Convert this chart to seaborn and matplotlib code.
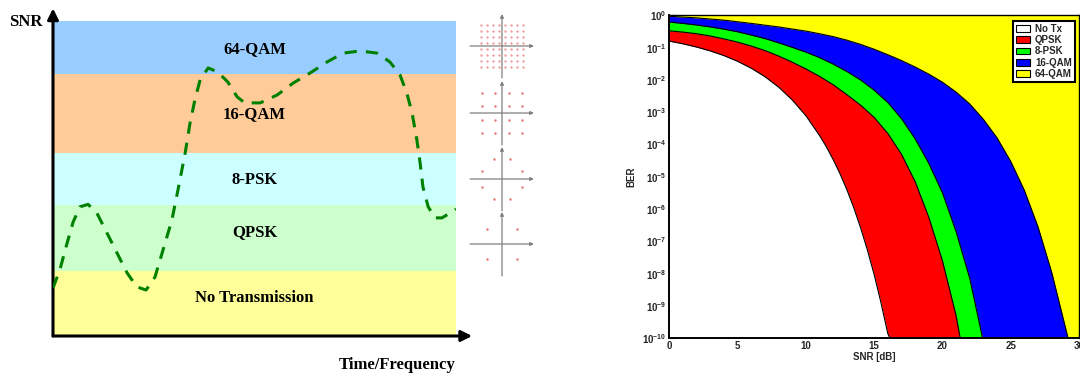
import numpy as np
import pandas as pd

import matplotlib
matplotlib.use('Agg')
import matplotlib.pyplot as plt
from matplotlib.patches import Patch
from matplotlib.ticker import LogLocator, NullFormatter
import seaborn as sns

W, H = 1080, 373

# ---- left panel: adaptive modulation regions over time/frequency ----
BAND_NAMES = ["No Transmission", "QPSK", "8-PSK", "16-QAM", "64-QAM"]
BAND_EDGES = [0, 20.6, 41.6, 58.1, 83.2, 100]
BAND_COLORS = ["#FFFF99", "#CCFFCC", "#CCFFFF", "#FFCC99", "#99CCFF"]
LABEL_Y = [12.1, 33.0, 49.5, 70.5, 91.1]

TRACE_T = [0, 1.7, 3.5, 5.0, 6.7, 8.7, 10.9, 13.4, 15.9, 18.4,
           20.8, 23.1, 25.3, 27.3, 29.5, 31.0, 32.8, 34.0, 35.2, 36.5,
           38.5, 40.9, 43.4, 45.7, 47.6, 51.4, 55.6, 59.6, 63.8, 68.0,
           72.0, 76.2, 80.4, 83.6, 86.1, 87.8, 89.1, 90.3, 91.1, 91.8,
           93.1, 94.8, 96.5, 98.5, 100]
TRACE_SNR = [15.2, 21.0, 29.5, 36.2, 41.0, 41.8, 39.0, 32.7, 26.3, 20.0,
             15.6, 14.6, 18.7, 27.3, 36.8, 46.3, 58.1, 67.6, 74.9, 81.3,
             85.1, 83.8, 80.6, 75.9, 74.0, 74.0, 76.5, 80.3, 83.5, 87.0,
             89.8, 90.5, 89.8, 87.0, 82.9, 77.1, 70.8, 62.2, 54.9, 47.3,
             41.0, 37.5, 37.5, 39.0, 40.3]

# constellation point coordinates
QAM64_LEVELS = [-7, -5, -3, -1, 1, 3, 5, 7]
QAM16_LEVELS = [-3, -1, 1, 3]
PSK8_ANGLES = [22.5, 67.5, 112.5, 157.5, 202.5, 247.5, 292.5, 337.5]
QPSK_ANGLES = [45, 135, 225, 315]

# ---- right panel: BER boundaries per modulation ----
QPSK_SNR = [0, 1, 2, 3, 4, 5, 6, 7, 8, 9, 10, 11, 11.5, 12, 12.5, 13, 13.5,
            14, 14.5, 15, 15.5, 16, 16.15]
QPSK_BER = [0.159, 0.131, 0.104, 0.079, 0.0565, 0.0377, 0.023, 0.0126, 6.0e-3,
            2.4e-3, 7.8e-4, 1.9e-4, 8.5e-5, 3.4e-5, 1.24e-5, 4.0e-6, 1.12e-6,
            2.7e-7, 5.5e-8, 9.4e-9, 1.26e-9, 1.4e-10, 1.0e-10]

PSK8_SNR = [0, 1, 2, 3, 4, 5, 6, 7, 8, 9, 10, 11, 12, 13, 14, 15, 16, 17, 18,
            19, 20, 21, 21.3]
PSK8_BER = [0.331, 0.302, 0.269, 0.229, 0.186, 0.148, 0.112, 0.0813, 0.055,
            0.0355, 0.0219, 0.0129, 7.1e-3, 3.5e-3, 1.66e-3, 6.9e-4, 2.2e-4,
            5.0e-5, 7.1e-6, 5.6e-7, 2.5e-8, 5.0e-10, 1.0e-10]

QAM16_SNR = [0, 1, 2, 3, 4, 5, 6, 7, 8, 9, 10, 11, 12, 13, 14, 15, 16, 17, 18,
             19, 20, 21, 22, 22.94]
QAM16_BER = [0.617, 0.562, 0.501, 0.437, 0.372, 0.309, 0.245, 0.191, 0.141,
             0.102, 0.0724, 0.049, 0.0309, 0.0182, 0.01, 4.8e-3, 2.0e-3, 6.3e-4,
             1.5e-4, 2.6e-5, 3.2e-6, 2.0e-7, 7.1e-9, 1.0e-10]

QAM64_SNR = [0, 1, 2, 3, 4, 5, 6, 7, 8, 9, 10, 11, 12, 13, 14, 15, 16, 17, 18,
             19, 20, 21, 22, 23, 24, 25, 26, 27, 28, 29, 29.2]
QAM64_BER = [0.933, 0.881, 0.832, 0.767, 0.708, 0.631, 0.562, 0.495, 0.437,
             0.376, 0.324, 0.269, 0.219, 0.17, 0.126, 0.0891, 0.0603, 0.0398,
             0.0251, 0.0151, 8.5e-3, 4.2e-3, 1.8e-3, 6.0e-4, 1.6e-4, 3.0e-5,
             3.8e-6, 2.8e-7, 1.1e-8, 2.2e-10, 1.0e-10]

LEGEND_NAMES = ["No Tx", "QPSK", "8-PSK", "16-QAM", "64-QAM"]
LEGEND_COLORS = ["#FFFFFF", "#FF0000", "#00FF00", "#0000FF", "#FFFF00"]


def px_axes(x0, y0, x1, y1):
    # pixel box (top-left origin) -> figure fraction rect
    return [x0 / W, 1 - y1 / H, (x1 - x0) / W, (y1 - y0) / H]


sns.set_theme(style="white")
plt.rcParams['font.family'] = ['Liberation Sans', 'DejaVu Sans']
plt.rcParams['mathtext.fontset'] = 'custom'
plt.rcParams['mathtext.rm'] = 'Liberation Sans:bold'
plt.rcParams['mathtext.default'] = 'rm'

fig = plt.figure(figsize=(W / 100, H / 100), dpi=100)
fig.patch.set_facecolor('white')

# ---------------- left panel ----------------
serif = dict(family='Liberation Serif', fontweight='bold', color='black')
ax1 = fig.add_axes(px_axes(53, 21, 456, 336))
ax1.set_xlim(0, 100)
ax1.set_ylim(0, 100)
for lo, hi, c in zip(BAND_EDGES[:-1], BAND_EDGES[1:], BAND_COLORS):
    ax1.axhspan(lo, hi, color=c, lw=0, zorder=0)
for name, y in zip(BAND_NAMES, LABEL_Y):
    ax1.text(50, y, name, ha='center', va='center', fontsize=12, zorder=3, **serif)

trace = pd.DataFrame({"t": TRACE_T, "snr": TRACE_SNR})
sns.lineplot(data=trace, x="t", y="snr", ax=ax1, color="#008000", lw=2.2,
             linestyle=(0, (4, 3)), estimator=None, sort=False, zorder=4)
ax1.set_xlabel("")
ax1.set_ylabel("")
ax1.set_xticks([])
ax1.set_yticks([])
for s in ax1.spines.values():
    s.set_visible(False)

arrow = dict(arrowstyle='-|>', color='black', lw=2.2, mutation_scale=16,
             shrinkA=0, shrinkB=0)
ax1.annotate('', xy=(0, 1.04), xytext=(0, 0), xycoords='axes fraction',
             arrowprops=arrow, annotation_clip=False)
ax1.annotate('', xy=(1.04, 0), xytext=(0, 0), xycoords='axes fraction',
             arrowprops=arrow, annotation_clip=False)
fig.text(26 / W, 1 - 22 / H, "SNR", ha='center', va='center', fontsize=12, **serif)
fig.text(397 / W, 1 - 365 / H, "Time/Frequency", ha='center', va='center',
         fontsize=12, **serif)

# constellation thumbnails
g64 = np.array(QAM64_LEVELS) / 7
g16 = np.array(QAM16_LEVELS) / 3 * 0.95
xx64, yy64 = np.meshgrid(g64, g64)
xx16, yy16 = np.meshgrid(g16, g16)
a8 = np.deg2rad(PSK8_ANGLES)
a4 = np.deg2rad(QPSK_ANGLES)
constellations = [
    (46, xx64.ravel(), yy64.ravel(), 0.55),
    (113, xx16.ravel(), yy16.ravel(), 0.8),
    (179, np.cos(a8), np.sin(a8), 0.8),
    (244, np.cos(a4), np.sin(a4), 0.8),
]
thin = dict(arrowstyle='-|>', color='#808080', lw=0.9, mutation_scale=5,
            shrinkA=0, shrinkB=0)
for cy, px, py, alpha in constellations:
    axc = fig.add_axes(px_axes(469, cy - 33, 535, cy + 33))
    axc.set_xlim(-1.55, 1.55)
    axc.set_ylim(-1.55, 1.55)
    axc.axis('off')
    axc.annotate('', xy=(1.5, 0), xytext=(-1.5, 0), arrowprops=thin)
    axc.annotate('', xy=(0, 1.5), xytext=(0, -1.5), arrowprops=thin)
    sns.scatterplot(x=px, y=py, ax=axc, color='#E05050', s=3, linewidth=0,
                    alpha=alpha, legend=False)

# ---------------- right panel ----------------
ax2 = fig.add_axes(px_axes(669.3, 15.3, 1079, 338.3))
ax2.set_yscale('log')
ax2.set_xlim(0, 30)
ax2.set_ylim(1e-10, 1)

ax2.fill_between([0, 30], 1e-10, 1, color='#FFFF00', lw=0, zorder=0)
curves = [(QAM64_SNR, QAM64_BER, '#0000FF'),
          (QAM16_SNR, QAM16_BER, '#00FF00'),
          (PSK8_SNR, PSK8_BER, '#FF0000'),
          (QPSK_SNR, QPSK_BER, '#FFFFFF')]
for snr, ber, c in curves:
    ax2.fill_between(snr, 1e-10, ber, color=c, lw=0, zorder=1)
for snr, ber, _ in curves:
    sns.lineplot(x=snr, y=ber, ax=ax2, color='black', lw=0.8,
                 estimator=None, sort=False, zorder=2)

exps = list(range(0, -11, -1))
ax2.set_yticks([10.0 ** e for e in exps], [rf"$10^{{{e}}}$" for e in exps])
ax2.yaxis.set_minor_locator(LogLocator(base=10, subs=np.arange(2, 10), numticks=100))
ax2.yaxis.set_minor_formatter(NullFormatter())
ax2.set_xticks([0, 5, 10, 15, 20, 25, 30])
ax2.tick_params(axis='both', which='major', direction='in', length=4, width=0.8,
                labelsize=7, pad=2, color='black', left=True, bottom=True)
ax2.tick_params(axis='y', which='minor', direction='in', length=2, width=0.6,
                left=True, color='black')
for lab in ax2.get_xticklabels():
    lab.set_fontweight('bold')
ax2.set_xlabel("SNR [dB]", fontsize=7, fontweight='bold', labelpad=1)
ax2.set_ylabel("BER", fontsize=7, fontweight='bold', labelpad=4)
for s in ax2.spines.values():
    s.set_visible(True)
    s.set_color('black')
    s.set_linewidth(1.0)
ax2.spines['left'].set_linewidth(1.4)
ax2.spines['bottom'].set_linewidth(1.4)
ax2.grid(False)

handles = [Patch(facecolor=c, edgecolor='black', lw=0.8) for c in LEGEND_COLORS]
leg = ax2.legend(handles, LEGEND_NAMES, loc='upper right',
                 bbox_to_anchor=(0.99, 0.982), fancybox=False, framealpha=1,
                 edgecolor='black', prop=dict(family='Liberation Sans', weight='bold', size=7),
                 handlelength=1.5, handleheight=0.7, labelspacing=0.12,
                 handletextpad=0.5, borderpad=0.3, borderaxespad=0)
leg.get_frame().set_linewidth(1.5)

fig.savefig("out.png", dpi=100)
